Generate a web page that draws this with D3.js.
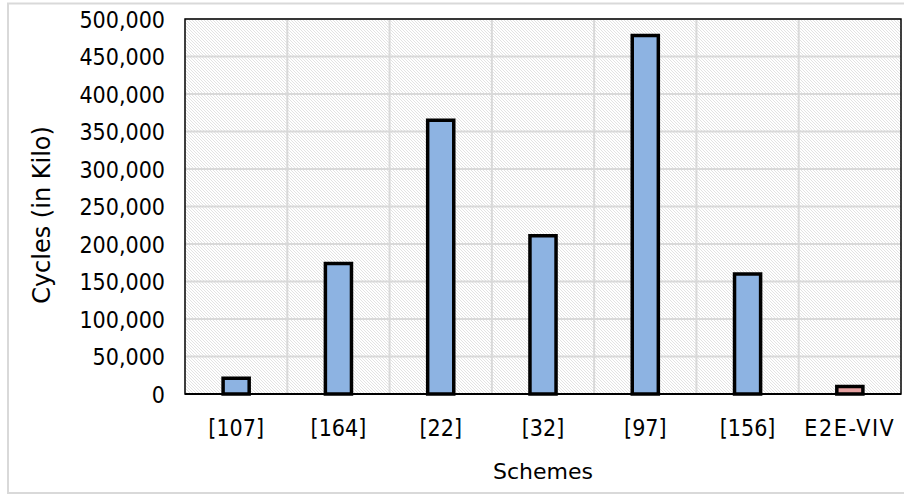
<!DOCTYPE html>
<html>
<head>
<meta charset="utf-8">
<script src="https://cdn.jsdelivr.net/npm/d3@7"></script>
<style>
  html, body { margin: 0; padding: 0; background: #fff; }
  svg { display: block; }
</style>
</head>
<body>
<svg id="chart" width="904" height="495"></svg>
<script>
const categories = ["[107]", "[164]", "[22]", "[32]", "[97]", "[156]", "E2E-VIV"];
const values = [21000, 174000, 365000, 211000, 478000, 160000, 10000];
const barColors = ["#8DB3E2", "#8DB3E2", "#8DB3E2", "#8DB3E2", "#8DB3E2", "#8DB3E2", "#E6A1A1"];
const yTicks = [0, 50000, 100000, 150000, 200000, 250000, 300000, 350000, 400000, 450000, 500000];
const xTitle = "Schemes";
const yTitle = "Cycles (in Kilo)";

const svg = d3.select("#chart");
const W = 904, H = 495;
const m = { left: 185, right: 3, top: 19, bottom: 101 };
const pw = W - m.left - m.right, ph = H - m.top - m.bottom;

// outer frame
svg.append("rect").attr("x", 8).attr("y", 3.5).attr("width", W + 10).attr("height", 489.5)
  .attr("fill", "#fff").attr("stroke", "#d9d9d9").attr("stroke-width", 2);

const defs = svg.append("defs");
const pat = defs.append("pattern").attr("id", "hatch").attr("patternUnits", "userSpaceOnUse")
  .attr("width", 3).attr("height", 3);
pat.append("rect").attr("width", 3).attr("height", 3).attr("fill", "#ffffff");
pat.append("path").attr("d", "M-1,-1 L4,4 M2,-1 L4,1 M-1,2 L1,4")
  .attr("stroke", "#dcdcdc").attr("stroke-width", 0.8);

const x = d3.scaleBand().domain(categories).range([0, pw]).padding(0);
const y = d3.scaleLinear().domain([0, 500000]).range([ph, 0]);

const g = svg.append("g").attr("transform", `translate(${m.left},${m.top})`);

g.append("rect").attr("width", pw).attr("height", ph).attr("fill", "url(#hatch)");

// gridlines
g.append("g").selectAll("line").data(yTicks.slice(1)).join("line")
  .attr("x1", 0).attr("x2", pw).attr("y1", d => y(d)).attr("y2", d => y(d))
  .attr("stroke", "#d9d9d9").attr("stroke-width", 2);
g.append("g").selectAll("line").data(categories.slice(1)).join("line")
  .attr("x1", d => x(d)).attr("x2", d => x(d)).attr("y1", 0).attr("y2", ph)
  .attr("stroke", "#d9d9d9").attr("stroke-width", 2);

// bars
const bw = x.bandwidth() * 0.255;
g.append("g").selectAll("rect").data(categories).join("rect")
  .attr("x", d => x(d) + x.bandwidth() / 2 - bw / 2)
  .attr("width", bw)
  .attr("y", (d, i) => y(values[i]))
  .attr("height", (d, i) => ph - y(values[i]))
  .attr("fill", (d, i) => barColors[i])
  .attr("stroke", "#000").attr("stroke-width", 3.5);

// plot border
g.append("rect").attr("width", pw).attr("height", ph).attr("fill", "none")
  .attr("stroke", "#000").attr("stroke-width", 1.5);
g.append("line").attr("x1", 0).attr("x2", pw).attr("y1", ph).attr("y2", ph)
  .attr("stroke", "#000").attr("stroke-width", 2);

// axes
const yAxis = d3.axisLeft(y).tickValues(yTicks).tickSize(0).tickPadding(20)
  .tickFormat(d3.format(","));
const ya = g.append("g").call(yAxis);
ya.select(".domain").remove();
ya.selectAll("text").attr("font-family", "DejaVu Sans Condensed").attr("font-size", 23)
  .attr("fill", "#000").attr("dy", "0.36em");

const xAxis = d3.axisBottom(x).tickSize(0).tickPadding(26);
const xa = g.append("g").attr("transform", `translate(0,${ph})`).call(xAxis);
xa.select(".domain").remove();
xa.selectAll("text").attr("font-family", "DejaVu Sans Condensed").attr("font-size", 23)
  .attr("fill", "#000")
  .attr("letter-spacing", d => d === "E2E-VIV" ? 1.6 : 0);

svg.append("text").attr("x", m.left + pw / 2).attr("y", 479)
  .attr("text-anchor", "middle").attr("font-family", "DejaVu Sans").attr("font-size", 22)
  .attr("fill", "#000").text(xTitle);
svg.append("text").attr("transform", `translate(50,${215}) rotate(-90)`)
  .attr("text-anchor", "middle").attr("font-family", "DejaVu Sans").attr("font-size", 24)
  .attr("fill", "#000").text(yTitle);
</script>
</body>
</html>
